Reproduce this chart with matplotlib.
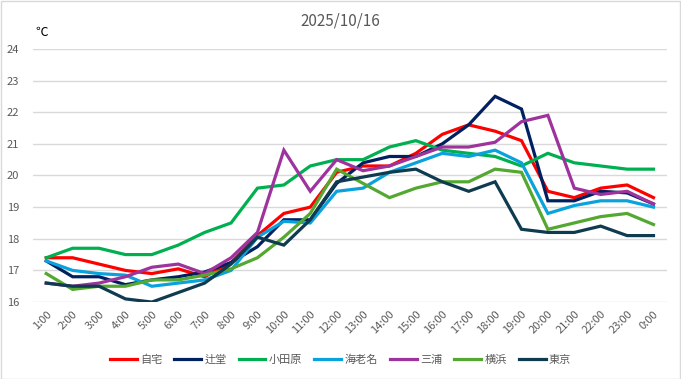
import matplotlib.pyplot as plt
from matplotlib.patches import Rectangle

plt.rcParams['font.family'] = ['Noto Sans CJK JP', 'DejaVu Sans']

# データ
hours = ["1:00", "2:00", "3:00", "4:00", "5:00", "6:00", "7:00", "8:00",
         "9:00", "10:00", "11:00", "12:00", "13:00", "14:00", "15:00", "16:00",
         "17:00", "18:00", "19:00", "20:00", "21:00", "22:00", "23:00", "0:00"]

jitaku = [17.4, 17.4, 17.2, 17.0, 16.9, 17.05, 16.8, 17.25, 18.1, 18.8, 19.0, 20.1,
          20.3, 20.3, 20.7, 21.3, 21.6, 21.4, 21.1, 19.5, 19.3, 19.6, 19.7, 19.3]
tsujido = [17.3, 16.8, 16.8, 16.55, 16.7, 16.8, 16.95, 17.25, 17.75, 18.6, 18.6, 19.75,
           20.4, 20.6, 20.6, 21.0, 21.6, 22.5, 22.1, 19.2, 19.2, 19.5, 19.45, 19.1]
odawara = [17.4, 17.7, 17.7, 17.5, 17.5, 17.8, 18.2, 18.5, 19.6, 19.7, 20.3, 20.5,
           20.5, 20.9, 21.1, 20.8, 20.7, 20.6, 20.3, 20.7, 20.4, 20.3, 20.2, 20.2]
ebina = [17.3, 17.0, 16.9, 16.85, 16.5, 16.6, 16.7, 17.0, 18.05, 18.55, 18.5, 19.5,
         19.6, 20.1, 20.4, 20.7, 20.6, 20.8, 20.4, 18.8, 19.05, 19.2, 19.2, 19.0]
miura = [16.6, 16.5, 16.6, 16.8, 17.1, 17.2, 16.9, 17.4, 18.2, 20.8, 19.5, 20.5,
         20.15, 20.3, 20.6, 20.9, 20.9, 21.05, 21.7, 21.9, 19.6, 19.4, 19.5, 19.1]
yokohama = [16.9, 16.4, 16.5, 16.5, 16.7, 16.7, 16.85, 17.05, 17.4, 18.05, 18.8, 20.2,
            19.75, 19.3, 19.6, 19.8, 19.8, 20.2, 20.1, 18.3, 18.5, 18.7, 18.8, 18.45]
tokyo = [16.6, 16.5, 16.5, 16.1, 16.0, 16.3, 16.6, 17.2, 18.05, 17.8, 18.6, 19.8,
         19.95, 20.1, 20.2, 19.8, 19.5, 19.8, 18.3, 18.2, 18.2, 18.4, 18.1, 18.1]

series_names = ["自宅", "辻堂", "小田原", "海老名", "三浦", "横浜", "東京"]
series_values = [jitaku, tsujido, odawara, ebina, miura, yokohama, tokyo]
series_colors = ["#FF0000", "#002060", "#00B050", "#0AA2DC",
                 "#9E339E", "#54A831", "#0F3B50"]

# 描画
fig = plt.figure(figsize=(6.81, 3.79), dpi=100)
ax = fig.add_axes([0.0485, 0.203, 0.9305, 0.668])

x = list(range(len(hours)))
for name, values, color in zip(series_names, series_values, series_colors):
    ax.plot(x, values, color=color, linewidth=2.3, label=name,
            solid_joinstyle="miter")

ax.set_xlim(-0.5, len(hours) - 0.5)
ax.set_ylim(16, 24)
ax.set_yticks(range(16, 25))
ax.set_xticks(x)
ax.set_xticklabels(hours, rotation=45, ha="right", rotation_mode="anchor")
ax.tick_params(axis="both", length=0, labelsize=8, labelcolor="#595959")
ax.tick_params(axis="y", pad=10)
ax.tick_params(axis="x", pad=5)
ax.grid(axis="y", color="#D9D9D9", linewidth=1)
ax.set_axisbelow(True)
for spine in ax.spines.values():
    spine.set_visible(False)

fig.text(0.5, 0.945, "2025/10/16", ha="center", va="center",
         fontsize=11, color="#595959")
fig.text(0.052, 0.915, "℃", ha="left", va="center", fontsize=9, color="black")

fig.legend(loc="center", bbox_to_anchor=(0.5, 0.05), ncol=7, frameon=False,
           fontsize=8, handlelength=2.4, columnspacing=1.1, handletextpad=0.3,
           labelcolor="#595959")

# 外枠
fig.patches.append(Rectangle((0.001, 0.001), 0.997, 0.996, transform=fig.transFigure,
                             fill=False, edgecolor="#D9D9D9", linewidth=1))

fig.savefig("out.png", dpi=100)
